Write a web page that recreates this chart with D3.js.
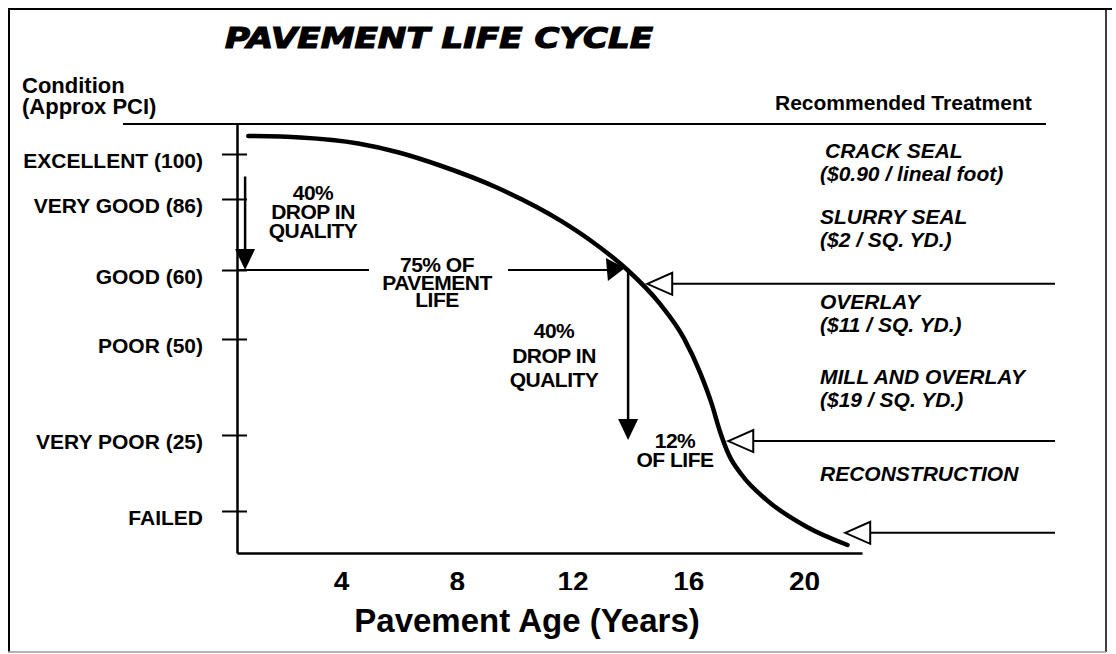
<!DOCTYPE html>
<html>
<head>
<meta charset="utf-8">
<script src="https://cdn.jsdelivr.net/npm/d3@7"></script>
<style>
  body { margin: 0; background: #fff; }
  svg text { font-family: "Liberation Sans", Arial, sans-serif; font-weight: bold; fill: #000; }
</style>
</head>
<body>
<svg id="chart" width="1116" height="654"></svg>
<script>
// condition (approx PCI) - FAILED read as 10, bottom of axis as 0
var conditionLabels = ["EXCELLENT (100)", "VERY GOOD (86)", "GOOD (60)", "POOR (50)", "VERY POOR (25)", "FAILED"];
var conditionValues = [100, 86, 60, 50, 25, 10];
var ageTicks = [4, 8, 12, 16, 20];

// life cycle curve
var curveAge = [0.8, 2.6, 4.6, 6.0, 7.4, 9.4, 11.6, 12.6, 13.9, 15.0, 15.85, 16.4, 16.8, 17.1, 17.4, 17.85, 18.7, 20.1, 21.5];
var curvePci = [106, 105.5, 103.5, 100.5, 96.5, 89.5, 78, 71, 60, 55.2, 50.1, 41.4, 33.3, 25.8, 21.1, 17.1, 12.2, 6.2, 1.9];

// the two "40% drop in quality" arrows
var dropAge = [0.69, 13.92];
var dropFrom = [93, 60];
var dropTo = [60, 24];

// "75% of pavement life" line at GOOD
var lifeAge = [0.41, 13.81];

// treatment arrows (pci level, age of the arrow tip)
var treatPci = [58, 23.8, 4.8];
var treatTipAge = [14.58, 17.38, 21.42];

var treatNames = ["CRACK SEAL", "SLURRY SEAL", "OVERLAY", "MILL AND OVERLAY", "RECONSTRUCTION"];
var treatCosts = ["($0.90 / lineal foot)", "($2 / SQ. YD.)", "($11 / SQ. YD.)", "($19 / SQ. YD.)", ""];

var svg = d3.select("#chart");

var x = d3.scaleLinear().domain([0.41, 22]).range([237, 862]);
// condition axis is not evenly spaced in the original, so piecewise
var y = d3.scaleLinear()
  .domain([0, 10, 25, 50, 60, 86, 100, 110])
  .range([553, 511, 435, 339, 270, 199, 154, 124]);

// frame
svg.append("line").attr("x1", 8).attr("y1", 9).attr("x2", 1112).attr("y2", 9).attr("stroke", "#000").attr("stroke-width", 2);
svg.append("line").attr("x1", 9).attr("y1", 8).attr("x2", 9).attr("y2", 652).attr("stroke", "#000").attr("stroke-width", 2);
svg.append("line").attr("x1", 1106).attr("y1", 8).attr("x2", 1106).attr("y2", 652).attr("stroke", "#000").attr("stroke-width", 1.5);
svg.append("line").attr("x1", 8).attr("y1", 652).attr("x2", 1106).attr("y2", 652).attr("stroke", "#999").attr("stroke-width", 1.5);

// title
svg.append("text")
  .attr("x", 225).attr("y", 48)
  .style("font-family", "'DejaVu Sans', Verdana, sans-serif")
  .style("font-style", "italic")
  .style("font-size", "28px")
  .style("stroke", "#000").style("stroke-width", 1.2)
  .attr("textLength", 428)
  .attr("lengthAdjust", "spacingAndGlyphs")
  .text("PAVEMENT LIFE CYCLE");

svg.append("text").attr("x", 22).attr("y", 93).style("font-size", "22px").text("Condition");
svg.append("text").attr("x", 22).attr("y", 114).style("font-size", "22px").text("(Approx PCI)");
svg.append("text").attr("x", 775).attr("y", 110).style("font-size", "21px").text("Recommended Treatment");

// header rule
svg.append("line").attr("x1", 123).attr("y1", 124).attr("x2", 1046).attr("y2", 124)
  .attr("stroke", "#000").attr("stroke-width", 2);

// y axis
var yAxis = svg.append("g")
  .attr("transform", "translate(" + x.range()[0] + ",0)")
  .call(d3.axisLeft(y).tickValues(conditionValues)
    .tickFormat(function(d, i) { return conditionLabels[i]; })
    .tickSizeInner(15).tickSizeOuter(0).tickPadding(19));
yAxis.select(".domain").attr("stroke-width", 2.5);
yAxis.selectAll(".tick line").attr("x1", 10).attr("stroke-width", 2);
yAxis.selectAll(".tick text")
  .attr("dy", 13)
  .style("font-size", "21px")
  .style("font-family", "'Liberation Sans', Arial, sans-serif")
  .style("font-weight", "bold");

// x axis, its labels cut off at the bottom like the scan
svg.append("clipPath").attr("id", "xclip")
  .append("rect").attr("x", 0).attr("y", -10).attr("width", 1116).attr("height", 47);
var xAxis = svg.append("g")
  .attr("transform", "translate(0," + y(0) + ")")
  .attr("clip-path", "url(#xclip)")
  .call(d3.axisBottom(x).tickValues(ageTicks).tickSize(0).tickSizeOuter(0));
xAxis.select(".domain").attr("stroke-width", 2.5);
xAxis.selectAll(".tick text")
  .attr("y", 38).attr("dy", 0)
  .style("font-size", "28px")
  .style("font-family", "'Liberation Sans', Arial, sans-serif")
  .style("font-weight", "bold");

svg.append("text")
  .attr("x", 527).attr("y", 632)
  .attr("text-anchor", "middle")
  .style("font-size", "33px")
  .text("Pavement Age (Years)");

// life cycle curve
var line = d3.line()
  .x(function(d) { return x(d[0]); })
  .y(function(d) { return y(d[1]); })
  .curve(d3.curveMonotoneX);
svg.append("path")
  .datum(d3.zip(curveAge, curvePci))
  .attr("d", line)
  .attr("fill", "none")
  .attr("stroke", "#000")
  .attr("stroke-width", 4.5)
  .attr("stroke-linecap", "round");

// 75% of pavement life line, broken for its label
var lifeY = y(60);
var gapL = 369, gapR = 508;
svg.append("line").attr("x1", x(lifeAge[0])).attr("y1", lifeY).attr("x2", gapL).attr("y2", lifeY)
  .attr("stroke", "#000").attr("stroke-width", 2);
svg.append("line").attr("x1", gapR).attr("y1", lifeY).attr("x2", x(lifeAge[1]) - 15).attr("y2", lifeY)
  .attr("stroke", "#000").attr("stroke-width", 2);
var tipX = x(lifeAge[1]);
svg.append("path")
  .attr("d", "M" + tipX + "," + (lifeY - 2) + "L" + (tipX - 19) + "," + (lifeY - 12) + "L" + (tipX - 17) + "," + (lifeY + 11) + "Z")
  .attr("fill", "#000");

// drop arrows
dropAge.forEach(function(a, i) {
  var ax = x(a), y0 = y(dropFrom[i]), y1 = y(dropTo[i]);
  svg.append("line").attr("x1", ax).attr("y1", y0).attr("x2", ax).attr("y2", y1 - 18)
    .attr("stroke", "#000").attr("stroke-width", 2.5);
  svg.append("path")
    .attr("d", "M" + (ax - 10) + "," + (y1 - 21) + "L" + (ax + 10) + "," + (y1 - 21) + "L" + ax + "," + y1 + "Z")
    .attr("fill", "#000");
});

// treatment arrows (open heads)
treatPci.forEach(function(p, i) {
  var tx = x(treatTipAge[i]), ty = y(p);
  svg.append("line").attr("x1", tx + 24).attr("y1", ty).attr("x2", 1055).attr("y2", ty)
    .attr("stroke", "#000").attr("stroke-width", 2);
  svg.append("path")
    .attr("d", "M" + tx + "," + ty + "L" + (tx + 25) + "," + (ty - 11) + "L" + (tx + 25) + "," + (ty + 11) + "Z")
    .attr("fill", "#fff").attr("stroke", "#000").attr("stroke-width", 2);
});

// annotation texts, one text element per block with tight leading
function block(cx, top, gap, lines) {
  var t = svg.append("text")
    .attr("x", cx).attr("y", top)
    .attr("text-anchor", "middle")
    .style("font-size", "21px")
    .style("letter-spacing", "-0.5px");
  lines.forEach(function(s, i) {
    t.append("tspan").attr("x", cx).attr("dy", i == 0 ? 0 : gap).text(s);
  });
}
block(313, 200, 19, ["40%", "DROP IN", "QUALITY"]);
block(437, 272, 17.5, ["75% OF", "PAVEMENT", "LIFE"]);
block(554, 338, 24.5, ["40%", "DROP IN", "QUALITY"]);
block(675, 448, 19, ["12%", "OF LIFE"]);

// recommended treatments
var treatY = [158, 224, 309, 384, 481];
treatNames.forEach(function(n, i) {
  var tx = i == 0 ? 825 : 820;
  svg.append("text").attr("x", tx).attr("y", treatY[i])
    .style("font-size", "21px").style("font-style", "italic").text(n);
  if (treatCosts[i]) {
    svg.append("text").attr("x", 820).attr("y", treatY[i] + 23)
      .style("font-size", "21px").style("font-style", "italic").text(treatCosts[i]);
  }
});
</script>
</body>
</html>
